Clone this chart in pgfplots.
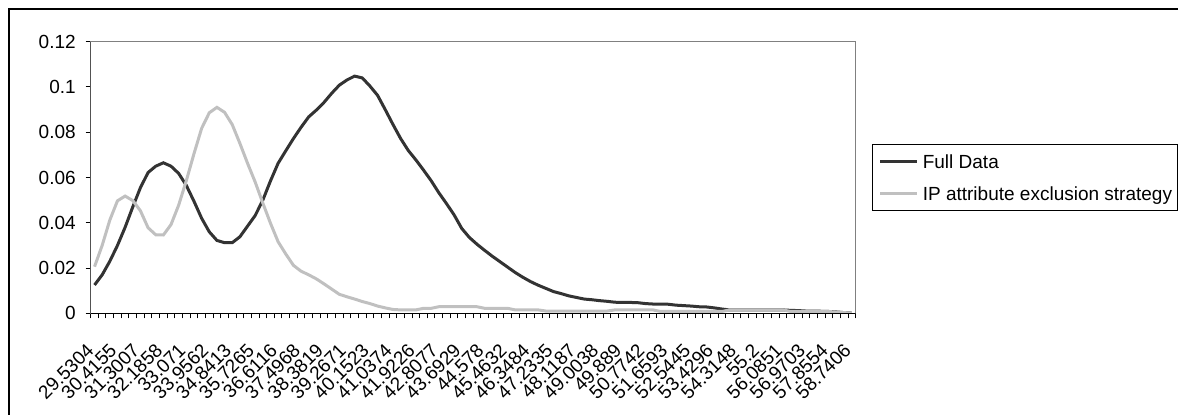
\documentclass[border=0pt]{standalone}
\usepackage{pgfplots}
\pgfplotsset{compat=1.18}
\usepackage{fontspec}
\setmainfont{Liberation Sans}
\newcommand\fs{\fontsize{9.5}{11}\selectfont}
\definecolor{fulldata}{HTML}{333333}
\definecolor{ipcol}{HTML}{C0C0C0}
\definecolor{boxgray}{HTML}{808080}
\begin{document}
\begin{tikzpicture}
\useasboundingbox (0,0) rectangle (589pt,207pt);
\begin{scope}
\clip (0,0) rectangle (589pt,207pt);
\draw[black, line width=0.8pt] (4.5pt,-10pt) -- (4.5pt,202.5pt) -- (600pt,202.5pt);
\end{scope}
\begin{axis}[
  at={(45.35pt,50.35pt)}, anchor=south west,
  scale only axis, width=382.5pt, height=135.8pt,
  xmin=-0.5, xmax=99.5, ymin=0, ymax=0.12,
  axis line style={boxgray, line width=0.5pt},
  tick style={black, line width=0.5pt},
  tick align=outside, major tick length=2.5pt,
  xtick pos=left, ytick pos=left,
  xtick={-0.5,0.5,...,99.5}, xticklabels={},
  ytick={0,0.02,0.04,0.06,0.08,0.1,0.12},
  yticklabels={0,0.02,0.04,0.06,0.08,0.1,0.12},
  yticklabel style={font=\fs, inner sep=0pt, /tikz/xshift=-4.8pt},
  extra x ticks={0,3,...,99},
  extra x tick labels={29.5304,30.4155,31.3007,32.1858,33.071,33.9562,34.8413,35.7265,36.6116,37.4968,38.3819,39.2671,40.1523,41.0374,41.9226,42.8077,43.6929,44.578,45.4632,46.3484,47.2335,48.1187,49.0038,49.889,50.7742,51.6593,52.5445,53.4296,54.3148,55.2,56.0851,56.9703,57.8554,58.7406},
  extra x tick style={major tick length=0pt, xticklabel style={font=\fs, inner sep=0pt, /tikz/xshift=-2.05pt, /tikz/yshift=-16.75pt, rotate=45, anchor=east}},
  legend style={at={(1.0217,0.6222)}, anchor=north west, draw=black, line width=0.5pt, fill=white, font=\fs,
    inner xsep=2.85pt, inner ysep=3pt, row sep=4.85pt,
    nodes={inner sep=0pt, text height=9pt, text depth=2pt},
    /tikz/every odd column/.append style={column sep=2.15pt}},
  legend cell align=left,
  legend image code/.code={\draw[#1] (0pt,0pt) -- (18.5pt,0pt);},
]
\addplot[fulldata, line width=1.5pt] table[x=k,y=v] {
k v
0 0.0125
1 0.0170
2 0.0230
3 0.0300
4 0.0380
5 0.0470
6 0.0555
7 0.0622
8 0.0650
9 0.0665
10 0.0650
11 0.0618
12 0.0565
13 0.0495
14 0.0420
15 0.0360
16 0.0322
17 0.0312
18 0.0312
19 0.0338
20 0.0385
21 0.0432
22 0.0500
23 0.0585
24 0.0663
25 0.0718
26 0.0772
27 0.0822
28 0.0868
29 0.0898
30 0.0932
31 0.0972
32 0.1008
33 0.1031
34 0.1048
35 0.1040
36 0.1004
37 0.0963
38 0.0900
39 0.0835
40 0.0773
41 0.0720
42 0.0678
43 0.0633
44 0.0586
45 0.0533
46 0.0485
47 0.0435
48 0.0375
49 0.0335
50 0.0305
51 0.0278
52 0.0252
53 0.0228
54 0.0204
55 0.0180
56 0.0159
57 0.0140
58 0.0124
59 0.0110
60 0.0096
61 0.0087
62 0.0077
63 0.0070
64 0.0063
65 0.0060
66 0.0056
67 0.0053
68 0.0049
69 0.0048
70 0.0048
71 0.0047
72 0.0043
73 0.0041
74 0.0041
75 0.0040
76 0.0036
77 0.0034
78 0.0032
79 0.0029
80 0.0028
81 0.0024
82 0.0019
83 0.0015
84 0.0015
85 0.0015
86 0.0015
87 0.0015
88 0.0015
89 0.0015
90 0.0015
91 0.0013
92 0.0012
93 0.0010
94 0.0010
95 0.0009
96 0.0008
97 0.0006
98 0.0003
99 0.0001
};
\addlegendentry{Full Data}
\addplot[ipcol, line width=1.5pt] table[x=k,y=v] {
k v
0 0.0206
1 0.0300
2 0.0412
3 0.0497
4 0.0518
5 0.0498
6 0.0453
7 0.0378
8 0.0347
9 0.0346
10 0.0392
11 0.0478
12 0.0586
13 0.0705
14 0.0817
15 0.0886
16 0.0910
17 0.0888
18 0.0834
19 0.0751
20 0.0663
21 0.0580
22 0.0487
23 0.0398
24 0.0316
25 0.0262
26 0.0212
27 0.0186
28 0.0170
29 0.0152
30 0.0130
31 0.0107
32 0.0084
33 0.0073
34 0.0063
35 0.0052
36 0.0043
37 0.0032
38 0.0024
39 0.0017
40 0.0015
41 0.0015
42 0.0015
43 0.0022
44 0.0022
45 0.0029
46 0.0029
47 0.0029
48 0.0029
49 0.0029
50 0.0029
51 0.0022
52 0.0022
53 0.0022
54 0.0022
55 0.0015
56 0.0015
57 0.0015
58 0.0015
59 0.0010
60 0.0010
61 0.0010
62 0.0010
63 0.0010
64 0.0010
65 0.0010
66 0.0010
67 0.0010
68 0.0015
69 0.0015
70 0.0015
71 0.0015
72 0.0015
73 0.0015
74 0.0008
75 0.0008
76 0.0008
77 0.0008
78 0.0008
79 0.0008
80 0.0008
81 0.0008
82 0.0008
83 0.0015
84 0.0015
85 0.0015
86 0.0015
87 0.0015
88 0.0015
89 0.0015
90 0.0015
91 0.0008
92 0.0008
93 0.0008
94 0.0008
95 0.0008
96 0.0008
97 0.0005
98 0.0003
99 0.0001
};
\addlegendentry{IP attribute exclusion strategy}
\draw[black, line width=0.5pt] (rel axis cs:0,1) -- (rel axis cs:0,0) -- (rel axis cs:1,0);
\end{axis}
\end{tikzpicture}
\end{document}
